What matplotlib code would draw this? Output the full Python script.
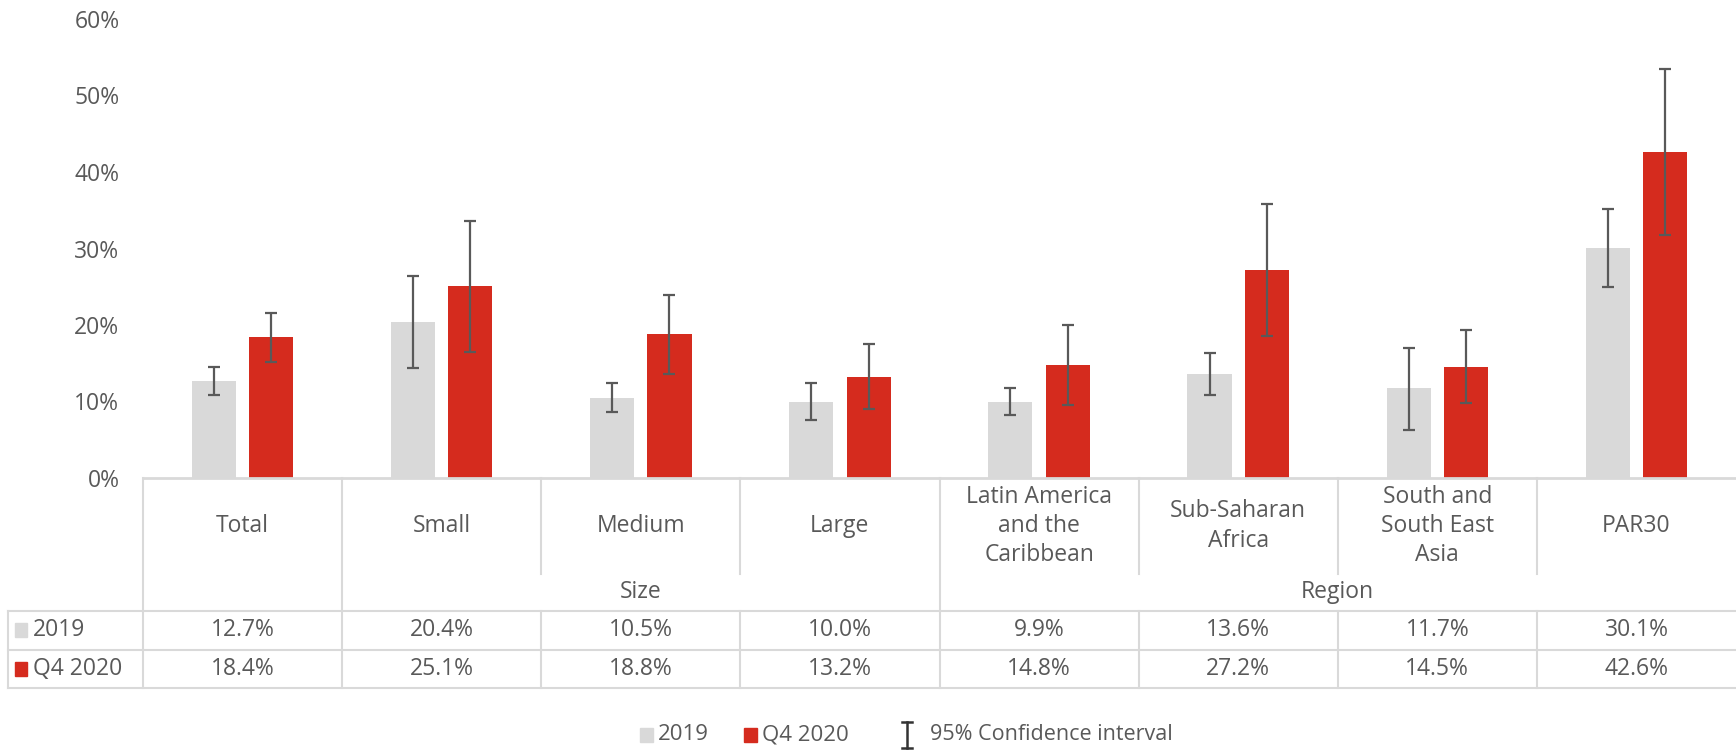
import matplotlib
matplotlib.use("Agg")
import matplotlib.pyplot as plt
from matplotlib.patches import Rectangle
from matplotlib.lines import Line2D
import matplotlib.transforms as mtransforms

plt.rcParams['font.family'] = ['Open Sans', 'DejaVu Sans']

categories = ["Total", "Small", "Medium", "Large",
              "Latin America\nand the\nCaribbean", "Sub-Saharan\nAfrica",
              "South and\nSouth East\nAsia", "PAR30"]
series_names = ["2019", "Q4 2020"]
v2019 = [12.7, 20.4, 10.5, 10.0, 9.9, 13.6, 11.7, 30.1]
v2020 = [18.4, 25.1, 18.8, 13.2, 14.8, 27.2, 14.5, 42.6]
lo2019 = [10.9, 14.4, 8.6, 7.6, 8.2, 10.8, 6.3, 25.0]
hi2019 = [14.5, 26.4, 12.4, 12.4, 11.7, 16.3, 17.0, 35.1]
lo2020 = [15.1, 16.5, 13.6, 9.0, 9.6, 18.6, 9.8, 31.8]
hi2020 = [21.6, 33.6, 23.9, 17.5, 20.0, 35.8, 19.3, 53.5]
groups = [("Size", 1, 3), ("Region", 4, 7)]
yticks = [0, 10, 20, 30, 40, 50, 60]

GRAY = "#D9D9D9"
RED = "#D52B1E"
TXT = "#595959"
ERR = "#595959"
LINE = "#D9D9D9"
FS = 16.5

W, H = 1736, 750
fig = plt.figure(figsize=(W / 100, H / 100), dpi=100)

def fy(p):
    return 1 - p / H

def fx(p):
    return p / W

ax_left = 143
ax = fig.add_axes([fx(ax_left), fy(478), 1 - fx(ax_left), fy(19) - fy(478)])
n = len(categories)
x = list(range(n))
bw = 0.222
off = 0.144
xg = [i - off for i in x]
xr = [i + off for i in x]
ax.bar(xg, v2019, width=bw, color=GRAY, zorder=2)
ax.bar(xr, v2020, width=bw, color=RED, zorder=2)
err_g = [[v - l for v, l in zip(v2019, lo2019)], [h - v for v, h in zip(v2019, hi2019)]]
err_r = [[v - l for v, l in zip(v2020, lo2020)], [h - v for v, h in zip(v2020, hi2020)]]
ax.errorbar(xg, v2019, yerr=err_g, fmt='none', ecolor=ERR, elinewidth=1.6, capsize=4.5, capthick=1.6, zorder=3)
ax.errorbar(xr, v2020, yerr=err_r, fmt='none', ecolor=ERR, elinewidth=1.6, capsize=4.5, capthick=1.6, zorder=3)

ax.set_xlim(-0.5, n - 0.5)
ax.set_ylim(0, 60)
ax.set_yticks(yticks)
ax.set_yticklabels([f"{t}%" for t in yticks], color=TXT, fontsize=FS)
ax.tick_params(axis='y', length=0, pad=17)
ax.set_xticks([])
for s in ["top", "right", "left"]:
    ax.spines[s].set_visible(False)
ax.spines["bottom"].set_color(LINE)
ax.spines["bottom"].set_linewidth(2)
ax.patch.set_alpha(0)

# Table drawn with x in data coords and y in figure coords
tr = mtransforms.blended_transform_factory(ax.transData, fig.transFigure)
lw = 1.5
y_axis = fy(478)
y_inner = fy(573.5)
y_r1 = fy(611)
y_r2 = fy(650)
y_r3 = fy(687.5)

def vline(xd, y0, y1):
    fig.add_artist(Line2D([xd, xd], [y0, y1], transform=tr, color=LINE, lw=lw))

vline(-0.5, y_r3, y_axis)
group_edges = {0.5, 3.5}
for b in [i + 0.5 for i in range(n - 1)]:
    if b in group_edges:
        vline(b, y_r3, y_axis)
    else:
        vline(b, y_inner, y_axis)
        vline(b, y_r3, y_r1)
fig.add_artist(Line2D([fx(8), fx(8)], [y_r3, y_r1], transform=fig.transFigure, color=LINE, lw=lw))
for yy in [y_r1, y_r2, y_r3]:
    fig.add_artist(Line2D([fx(8), 1], [yy, yy], transform=fig.transFigure, color=LINE, lw=lw))

# category labels
for i, c in enumerate(categories):
    fig.text(i, fy(526), c, transform=tr, ha='center', va='center', color=TXT,
             fontsize=FS, linespacing=1.28)
# group labels
for name, a, b in groups:
    fig.text((a + b) / 2, fy(592), name, transform=tr, ha='center', va='center',
             color=TXT, fontsize=FS)
# value rows
for vals, yc in [(v2019, fy(630)), (v2020, fy(669))]:
    for i, v in enumerate(vals):
        fig.text(i, yc, f"{v:.1f}%", transform=tr, ha='center', va='center',
                 color=TXT, fontsize=FS)
# row headers
for name, col, yc in [(series_names[0], GRAY, 630), (series_names[1], RED, 669)]:
    fig.add_artist(Rectangle((fx(15), fy(yc + 7)), fx(12), fy(yc - 7) - fy(yc + 7),
                             transform=fig.transFigure, color=col))
    fig.text(fx(33), fy(yc), name, ha='left', va='center', color=TXT, fontsize=FS)

# bottom legend
ly = 735
for name, col, x0 in [(series_names[0], GRAY, 640), (series_names[1], RED, 744)]:
    fig.add_artist(Rectangle((fx(x0), fy(ly + 7)), fx(13), fy(ly - 7) - fy(ly + 7),
                             transform=fig.transFigure, color=col))
    fig.text(fx(x0 + 18), fy(ly), name, ha='left', va='center', color=TXT, fontsize=16)
ex = fx(907)
fig.add_artist(Line2D([ex, ex], [fy(ly + 13), fy(ly - 13)], transform=fig.transFigure, color="#333333", lw=1.8))
for yy in [ly + 13, ly - 13]:
    fig.add_artist(Line2D([fx(902), fx(912)], [fy(yy), fy(yy)], transform=fig.transFigure, color="#333333", lw=1.8))
fig.text(fx(930), fy(ly), "95% Confidence interval", ha='left', va='center', color=TXT, fontsize=15.5)

fig.savefig("out.png", dpi=100, facecolor="white")
